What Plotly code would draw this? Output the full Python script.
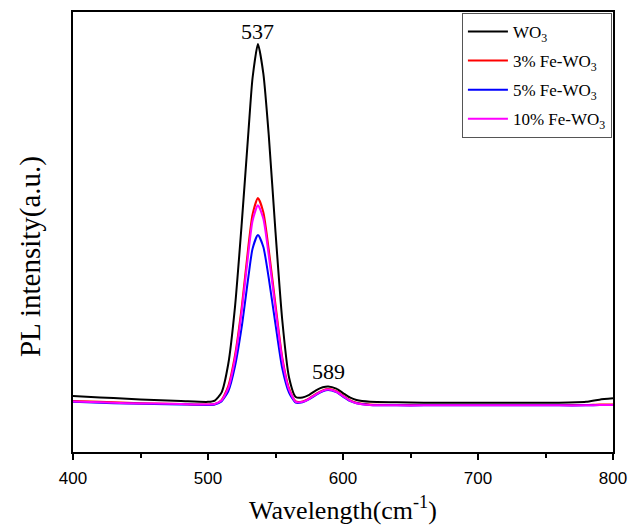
import plotly.graph_objects as go

wavelength = [400, 420, 440, 460, 480, 500, 505, 510, 515, 520, 525, 530, 533, 537,
              541, 545, 550, 555, 560, 565, 570, 575, 580, 585, 589, 595, 600, 605,
              610, 620, 640, 660, 680, 700, 720, 740, 760, 780, 790, 800]

wo3 = [127, 124, 121, 118, 116, 114, 117, 135, 200, 330, 520, 730, 850, 927,
       860, 720, 500, 300, 170, 125, 124, 130, 140, 147, 149, 144, 134, 124,
       118, 114, 113, 112, 112, 112, 112, 112, 112, 114, 119, 122]

fe3 = [116, 114, 112, 110, 109, 108, 109, 118, 150, 220, 330, 470, 540, 577,
       545, 460, 335, 215, 145, 115, 115, 122, 132, 140, 143, 138, 128, 118,
       112, 108, 107, 107, 107, 107, 107, 107, 107, 107, 108, 108]

fe5 = [114, 112, 110, 109, 108, 107, 108, 115, 138, 195, 285, 400, 462, 493,
       466, 395, 290, 190, 135, 112, 113, 120, 130, 138, 141, 136, 126, 116,
       111, 107, 106, 106, 106, 106, 106, 106, 106, 106, 107, 107]

fe10 = [115, 113, 111, 110, 109, 108, 109, 117, 145, 212, 320, 455, 525, 561,
        530, 447, 325, 210, 142, 114, 114, 121, 131, 139, 142, 137, 127, 117,
        111, 107, 106, 106, 106, 106, 106, 106, 106, 106, 107, 107]

series = [
    ("WO<sub>3</sub>", wo3, "#000000"),
    ("3% Fe-WO<sub>3</sub>", fe3, "#ff0000"),
    ("5% Fe-WO<sub>3</sub>", fe5, "#0000ff"),
    ("10% Fe-WO<sub>3</sub>", fe10, "#ff00ff"),
]

x_major_ticks = [400, 500, 600, 700, 800]
x_tick_labels = ["400", "500", "600", "700", "800"]

peak_labels = [(537, 955, "537"), (589, 182, "589")]

SERIF = "Liberation Serif, Times New Roman, serif"
SANS = "Liberation Sans, Arial, sans-serif"

fig = go.Figure()
for i, (name, vals, color) in enumerate(series):
    fig.add_trace(go.Scatter(x=wavelength, y=vals, name=name, mode="lines",
                             legendgroup="g%d" % i,
                             line=dict(color=color, width=2, shape="spline", smoothing=0.6)))

for px, py, txt in peak_labels:
    fig.add_annotation(x=px, y=py, text=txt, showarrow=False,
                       font=dict(family=SERIF, size=22, color="black"))

# y-axis title as rotated annotation
fig.add_annotation(xref="paper", yref="paper", x=0, y=0.443, xanchor="center", yanchor="middle",
                   xshift=-43, text="PL intensity(a.u.)", textangle=-90, showarrow=False,
                   font=dict(family=SERIF, size=29, color="black"))

fig.update_layout(
    width=628, height=528,
    margin=dict(l=73, r=15, t=12, b=76),
    paper_bgcolor="white", plot_bgcolor="white",
    showlegend=True,
    legend=dict(x=0.998, y=0.998, xanchor="right", yanchor="top",
                bordercolor="#555555", borderwidth=1, bgcolor="white",
                font=dict(family=SERIF, size=17, color="black"),
                tracegroupgap=4, itemwidth=40, entrywidth=160, entrywidthmode="pixels"),
    xaxis=dict(range=[400, 800], tickvals=x_major_ticks, ticktext=x_tick_labels,
               ticks="outside", ticklen=6, tickwidth=1.5, tickcolor="black",
               ticklabelstandoff=4,
               minor=dict(dtick=50, tick0=400, ticks="outside", ticklen=4, tickwidth=1.5,
                          tickcolor="black", showgrid=False),
               showline=True, linecolor="black", linewidth=1.5, mirror=True,
               showgrid=False, zeroline=False, automargin=False,
               tickfont=dict(family=SANS, size=17, color="black"),
               title=dict(text="Wavelength(cm<sup>-1</sup>)", standoff=14,
                          font=dict(family=SERIF, size=26, color="black"))),
    yaxis=dict(range=[0, 1000], showticklabels=False, ticks="",
               showline=True, linecolor="black", linewidth=1.5, mirror=True,
               showgrid=False, zeroline=False, automargin=False),
)

fig.write_html("out.html")
